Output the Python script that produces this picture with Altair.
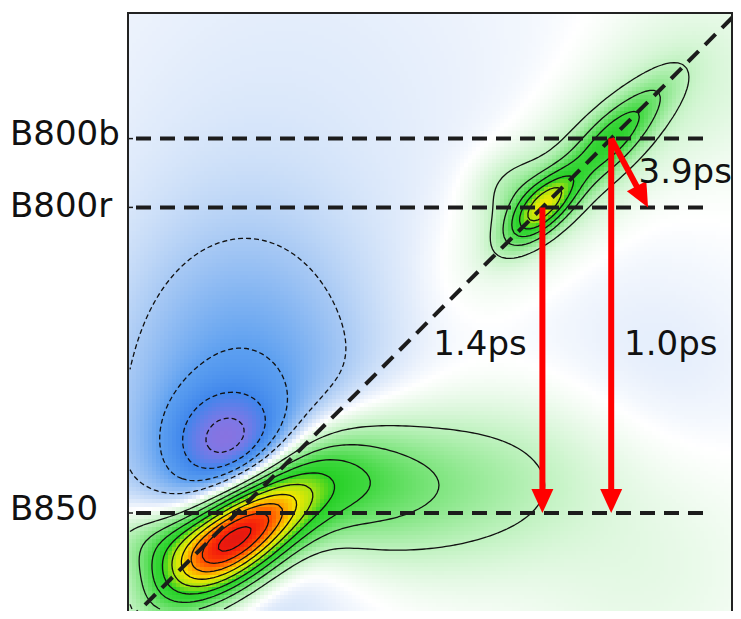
import math
from collections import defaultdict

import numpy as np
import pandas as pd
import altair as alt

alt.data_transformers.disable_max_rows()

# ---------------- axis frame (energy, cm^-1) ----------------
X_DOMAIN = [11500, 13012.5]
Y_DOMAIN = [11527, 13024.5]
PLOT_W, PLOT_H = 605, 599
STEP = 10  # grid cell size in data units

# band energies (diagonal positions)
band_labels = ["B800b", "B800r", "B850"]
band_energies = [12708, 12536, 11772]
band_label_dy = [-4, 0, -3]
line_x_start = 11520
line_x_end = 12950

# ---------------- spectral components ----------------
peak_name = ["B850 diag", "B850 left shoulder", "cross wing 1", "cross wing 2",
             "neg core", "neg broad",
             "B800r diag", "B800b ridge", "B800 halo", "B800 tip", "B800 upper-left",
             "bg blue", "bg green TR", "bg green BR", "bg blue R"]
peak_x = [11767, 11560, 12000, 12280,
          11762, 11785,
          12537, 12710, 12600, 12815, 12468,
          11930, 12930, 12780, 12830]
peak_y = [11709, 11700, 11850, 11830,
          11937, 12004,
          12537, 12707, 12610, 12815, 12580,
          12780, 12855, 11655, 12105]
peak_su = [155, 100, 160, 250,
           105, 225,
           80, 95, 230, 80, 70,
           500, 175, 225, 200]
peak_sv = [72, 65, 110, 140,
           92, 320,
           35, 40, 100, 35, 60,
           500, 175, 225, 200]
peak_angle = [38, 0, 8, 10,
              0, 0,
              45, 45, 45, 45, 0,
              0, 0, 0, 0]
peak_amp = [1.0, 0.18, 0.28, 0.16,
            -0.29, -0.21,
            0.45, 0.26, 0.12, 0.06, 0.08,
            -0.03, 0.05, 0.04, -0.03]

# contour levels
pos_levels = [0.1, 0.2, 0.3, 0.4, 0.5, 0.6, 0.7, 0.8, 0.9]
neg_levels = [-0.1, -0.2, -0.3, -0.4]

# colour map
cmap_stops = [-0.5, -0.4, -0.3, -0.2, -0.1, -0.03, 0.0, 0.03, 0.1, 0.2, 0.3,
              0.4, 0.5, 0.6, 0.7, 0.8, 0.9, 1.0]
cmap_colors = ["#9a6ad8", "#7c78e6", "#3f86ec", "#5c9ff0", "#a8c9f4", "#e2ecfb",
               "#ffffff", "#ebfaeb", "#bff2bf", "#7fe57f", "#40d840", "#25d025",
               "#a8e412", "#f4e800", "#ff9a00", "#ff4800", "#f21a0c", "#c81616"]

# arrows
arrow_labels = ["1.4ps", "1.0ps", "3.9ps"]
arrow_x0 = [12536, 12708, 12708]
arrow_y0 = [12536, 12708, 12708]
arrow_x1 = [12536, 12708, 12800]
arrow_y1 = [11772, 11772, 12536]
label_x = [12380, 12857, 12893]
label_y = [12192, 12192, 12622]

# ---------------- build field ----------------
xs = np.arange(X_DOMAIN[0] + STEP / 2, X_DOMAIN[1], STEP)
ys = np.arange(Y_DOMAIN[0] + STEP / 2, Y_DOMAIN[1], STEP)
GX, GY = np.meshgrid(xs, ys)
Z = np.zeros_like(GX)
for cx, cy, su, sv, th, amp in zip(peak_x, peak_y, peak_su, peak_sv, peak_angle, peak_amp):
    t = math.radians(th)
    dx, dy = GX - cx, GY - cy
    u = dx * math.cos(t) + dy * math.sin(t)
    v = -dx * math.sin(t) + dy * math.cos(t)
    Z += amp * np.exp(-0.5 * ((u / su) ** 2 + (v / sv) ** 2))

heat = pd.DataFrame({
    "x": (GX - STEP / 2).ravel(),
    "y": (GY - STEP / 2).ravel(),
    "v": np.round(Z.ravel(), 3),
})


# ---------------- marching squares ----------------
def iso_paths(Z, xs, ys, level):
    A = (Z > level).astype(int)
    case = A[:-1, :-1] + 2 * A[:-1, 1:] + 4 * A[1:, 1:] + 8 * A[1:, :-1]
    pts = {}

    def P(key):
        if key not in pts:
            kind, i, j = key
            if kind == "h":
                z0, z1 = Z[j, i], Z[j, i + 1]
                t = (level - z0) / (z1 - z0)
                pts[key] = (xs[i] + t * (xs[i + 1] - xs[i]), ys[j])
            else:
                z0, z1 = Z[j, i], Z[j + 1, i]
                t = (level - z0) / (z1 - z0)
                pts[key] = (xs[i], ys[j] + t * (ys[j + 1] - ys[j]))
        return pts[key]

    adj = defaultdict(list)

    def link(a, b):
        adj[a].append(b)
        adj[b].append(a)

    js, iis = np.nonzero((case > 0) & (case < 15))
    for j, i in zip(js.tolist(), iis.tolist()):
        c = int(case[j, i])
        b = ("h", i, j)
        r = ("v", i + 1, j)
        t = ("h", i, j + 1)
        l = ("v", i, j)
        bl, br, tr, tl = c & 1, (c >> 1) & 1, (c >> 2) & 1, (c >> 3) & 1
        if c in (5, 10):
            center = (Z[j, i] + Z[j, i + 1] + Z[j + 1, i + 1] + Z[j + 1, i]) / 4 > level
            if (c == 5) == center:
                link(b, r)
                link(t, l)
            else:
                link(l, b)
                link(r, t)
        else:
            es = []
            if bl != br:
                es.append(b)
            if br != tr:
                es.append(r)
            if tr != tl:
                es.append(t)
            if tl != bl:
                es.append(l)
            link(es[0], es[1])

    used = set()

    def walk(start):
        path = [start]
        used.add(start)
        cur = start
        while True:
            nxt = None
            for n in adj[cur]:
                if n not in used:
                    nxt = n
                    break
            if nxt is None:
                if start in adj[cur] and len(path) > 2:
                    path.append(start)
                break
            used.add(nxt)
            path.append(nxt)
            cur = nxt
        return path

    paths = []
    for k in list(adj.keys()):
        if len(adj[k]) == 1 and k not in used:
            paths.append(walk(k))
    for k in list(adj.keys()):
        if k not in used:
            paths.append(walk(k))
    return [[P(k) for k in p] for p in paths if len(p) >= 3]


def contour_frame(levels):
    rows = []
    pid = 0
    for lev in levels:
        for path in iso_paths(Z, xs, ys, lev):
            for k, (px, py) in enumerate(path):
                rows.append({"pid": pid, "k": k, "x": round(px, 2), "y": round(py, 2)})
            pid += 1
    return pd.DataFrame(rows)


pos_df = contour_frame(pos_levels)
neg_df = contour_frame(neg_levels)

# ---------------- shared scales ----------------
XS = alt.Scale(domain=X_DOMAIN, nice=False, zero=False)
YS = alt.Scale(domain=Y_DOMAIN, nice=False, zero=False)


def X(f):
    return alt.X(f, scale=XS, axis=None)


def Y(f):
    return alt.Y(f, scale=YS, axis=None)


OVER = STEP + 2.5  # one pixel overlap hides seams between cells
heat_layer = alt.Chart(heat).transform_calculate(
    x2=f"datum.x + {OVER}", y2=f"datum.y + {OVER}"
).mark_rect(clip=True, strokeWidth=0).encode(
    x=X("x:Q"), x2="x2:Q", y=Y("y:Q"), y2="y2:Q",
    color=alt.Color("v:Q", scale=alt.Scale(domain=cmap_stops, range=cmap_colors,
                                           interpolate="rgb", clamp=True), legend=None),
)

pos_layer = alt.Chart(pos_df).mark_line(color="#111111", strokeWidth=1.3, clip=True).encode(
    x=X("x:Q"), y=Y("y:Q"), detail="pid:N", order="k:Q")
neg_layer = alt.Chart(neg_df).mark_line(color="#111111", strokeWidth=1.3, strokeDash=[5, 3],
                                        clip=True).encode(
    x=X("x:Q"), y=Y("y:Q"), detail="pid:N", order="k:Q")

diag_df = pd.DataFrame({"x": [X_DOMAIN[0], X_DOMAIN[1] + 20], "y": [X_DOMAIN[0], X_DOMAIN[1] + 20]})
diag_layer = alt.Chart(diag_df).mark_line(color="#1c1c1c", strokeWidth=4, strokeDash=[15, 9],
                                          clip=True).encode(x=X("x:Q"), y=Y("y:Q"))

bands = pd.DataFrame({"label": band_labels, "e": band_energies, "dy": band_label_dy,
                      "xs": [line_x_start] * 3, "xe": [line_x_end] * 3})
hline_layer = alt.Chart(bands).mark_rule(color="#1c1c1c", strokeWidth=4,
                                         strokeDash=[15, 9]).encode(
    x=X("xs:Q"), x2="xe:Q", y=Y("e:Q"))
tick_layer = alt.Chart(bands).mark_rule(color="#1c1c1c", strokeWidth=1.5).encode(
    x=alt.value(0), x2=alt.value(5), y=Y("e:Q"))
label_layers = [
    alt.Chart(bands[bands.label == lab]).mark_text(
        font="DejaVu Sans", fontSize=34, align="left", baseline="middle", color="#111111",
        dy=d).encode(x=alt.value(-118), y=Y("e:Q"), text="label:N")
    for lab, d in zip(band_labels, band_label_dy)
]

# arrows
PX_PER_UNIT = 0.4
shaft_rows, head_rows = [], []
for x0, y0, x1, y1 in zip(arrow_x0, arrow_y0, arrow_x1, arrow_y1):
    L = math.hypot(x1 - x0, y1 - y0)
    ux, uy = (x1 - x0) / L, (y1 - y0) / L
    head_c = 12 / PX_PER_UNIT
    shaft_cut = 14 / PX_PER_UNIT
    shaft_rows.append({"x": x0, "y": y0, "x2": x1 - ux * shaft_cut, "y2": y1 - uy * shaft_cut})
    ang = math.degrees(math.atan2(-ux, -uy)) % 360
    head_rows.append({"x": x1 - ux * head_c, "y": y1 - uy * head_c, "ang": ang})
shafts = pd.DataFrame(shaft_rows)
heads = pd.DataFrame(head_rows)

shaft_layer = alt.Chart(shafts).mark_rule(color="#ff0000", strokeWidth=6).encode(
    x=X("x:Q"), y=Y("y:Q"), x2="x2:Q", y2="y2:Q")
head_layer = alt.Chart(heads).mark_point(
    shape="M-1,-1.1L1,-1.1L0,1.1Z", filled=True, size=484, color="#ff0000", opacity=1,
    strokeWidth=0).encode(x=X("x:Q"), y=Y("y:Q"), angle=alt.Angle("ang:Q", scale=None))

labels = pd.DataFrame({"t": arrow_labels, "x": label_x, "y": label_y})
text_layer = alt.Chart(labels).mark_text(font="DejaVu Sans", fontSize=34, align="center",
                                         baseline="middle", color="#111111").encode(
    x=X("x:Q"), y=Y("y:Q"), text="t:N")

frame_df = pd.DataFrame({"a": [0]})
frame_layers = [
    alt.Chart(frame_df).mark_rule(color="#222222", strokeWidth=2).encode(
        x=alt.value(0), y=alt.value(0), y2=alt.value(PLOT_H)),
    alt.Chart(frame_df).mark_rule(color="#222222", strokeWidth=2).encode(
        x=alt.value(0), x2=alt.value(PLOT_W), y=alt.value(1)),
    alt.Chart(frame_df).mark_rule(color="#222222", strokeWidth=2).encode(
        x=alt.value(PLOT_W - 1), y=alt.value(0), y2=alt.value(PLOT_H)),
]

chart = alt.layer(
    heat_layer, pos_layer, neg_layer, diag_layer, hline_layer, tick_layer,
    shaft_layer, head_layer, text_layer, *label_layers, *frame_layers,
).properties(
    width=PLOT_W, height=PLOT_H,
    autosize=alt.AutoSizeParams(type="none"),
    padding={"left": 120, "top": 4, "right": 0, "bottom": 0},
).configure_view(stroke=None)

chart.save("out.html", embed_options={"renderer": "svg", "actions": False})
